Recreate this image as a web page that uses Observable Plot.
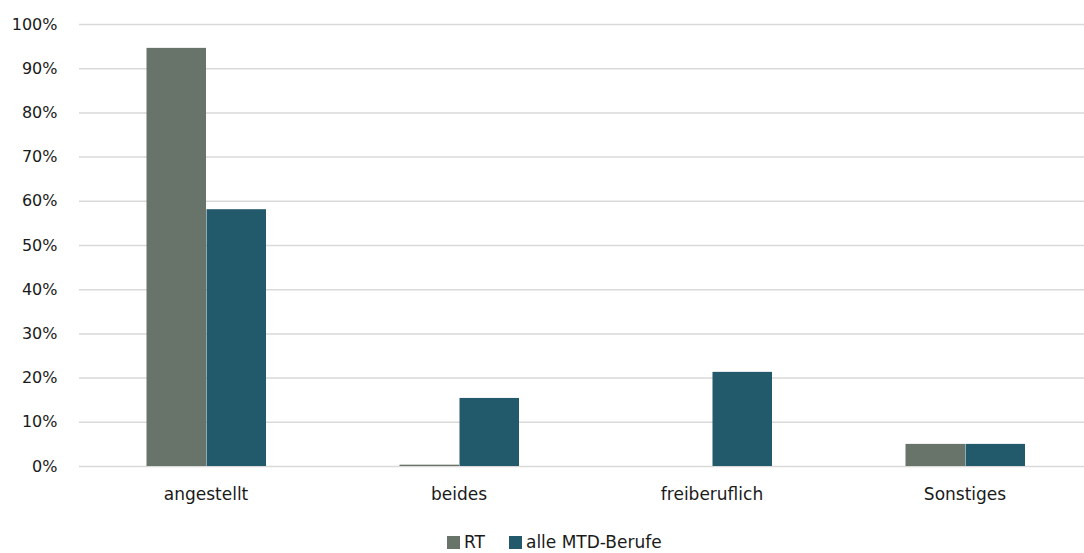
<!DOCTYPE html>
<html>
<head>
<meta charset="utf-8">
<script src="https://cdn.jsdelivr.net/npm/d3@7"></script>
<script src="https://cdn.jsdelivr.net/npm/@observablehq/plot@0.6"></script>
<style>
  html, body { margin: 0; padding: 0; background: #fff; }
  body { width: 1084px; height: 553px; overflow: hidden; position: relative; font-family: "DejaVu Sans", sans-serif; }
  #chart svg { overflow: hidden; display: block; }
  .legend { position: absolute; left: 447px; top: 532px; display: flex; align-items: center; font-size: 17px; line-height: 20px; color: #1a1a1a; }
  .legend .item { display: flex; align-items: center; margin-right: 24px; }
  .legend .sw { width: 13px; height: 13px; margin-right: 4px; }
</style>
</head>
<body>
<div id="chart"></div>
<div class="legend" id="legend"></div>
<script>
const categories = ["angestellt", "beides", "freiberuflich", "Sonstiges"];
const seriesNames = ["RT", "alle MTD-Berufe"];
const rtValues = [94.6, 0.3, 0, 5.0];
const mtdValues = [58.1, 15.4, 21.3, 5.0];
const seriesColors = ["#68736a", "#22596b"];
const yTicks = [0, 10, 20, 30, 40, 50, 60, 70, 80, 90, 100];

const data = [];
categories.forEach((c, i) => {
  data.push({category: c, series: seriesNames[0], value: rtValues[i]});
  data.push({category: c, series: seriesNames[1], value: mtdValues[i]});
});

const plot = Plot.plot({
  width: 1084,
  height: 515,
  marginTop: 24,
  marginBottom: 49,
  marginLeft: 79,
  marginRight: 0,
  style: {fontFamily: "DejaVu Sans, sans-serif", fontSize: "16px", color: "#1a1a1a", overflow: "hidden"},
  fx: {domain: categories, range: [79, 1091], padding: 0},
  x: {domain: seriesNames, paddingInner: 0, paddingOuter: 1.09, axis: null},
  y: {domain: [0, 100]},
  color: {domain: seriesNames, range: seriesColors},
  marks: [
    Plot.ruleY(yTicks, {stroke: "#d9d9d9", strokeWidth: 1.5}),
    Plot.barY(data, {fx: "category", x: "series", y: "value", fill: "series", inset: 0, insetLeft: 0.5}),
    Plot.axisY({ticks: yTicks, tickSize: 0, tickPadding: 22, tickFormat: d => d + "%", label: null, fontSize: 16}),
    Plot.axisFx({anchor: "bottom", tickSize: 0, tickPadding: 21, label: null, fontSize: 17})
  ]
});
document.getElementById("chart").appendChild(plot);

const legend = document.getElementById("legend");
seriesNames.forEach((s, i) => {
  const item = document.createElement("div");
  item.className = "item";
  const sw = document.createElement("div");
  sw.className = "sw";
  sw.style.background = seriesColors[i];
  const t = document.createElement("span");
  t.textContent = s;
  item.appendChild(sw);
  item.appendChild(t);
  legend.appendChild(item);
});
</script>
</body>
</html>
